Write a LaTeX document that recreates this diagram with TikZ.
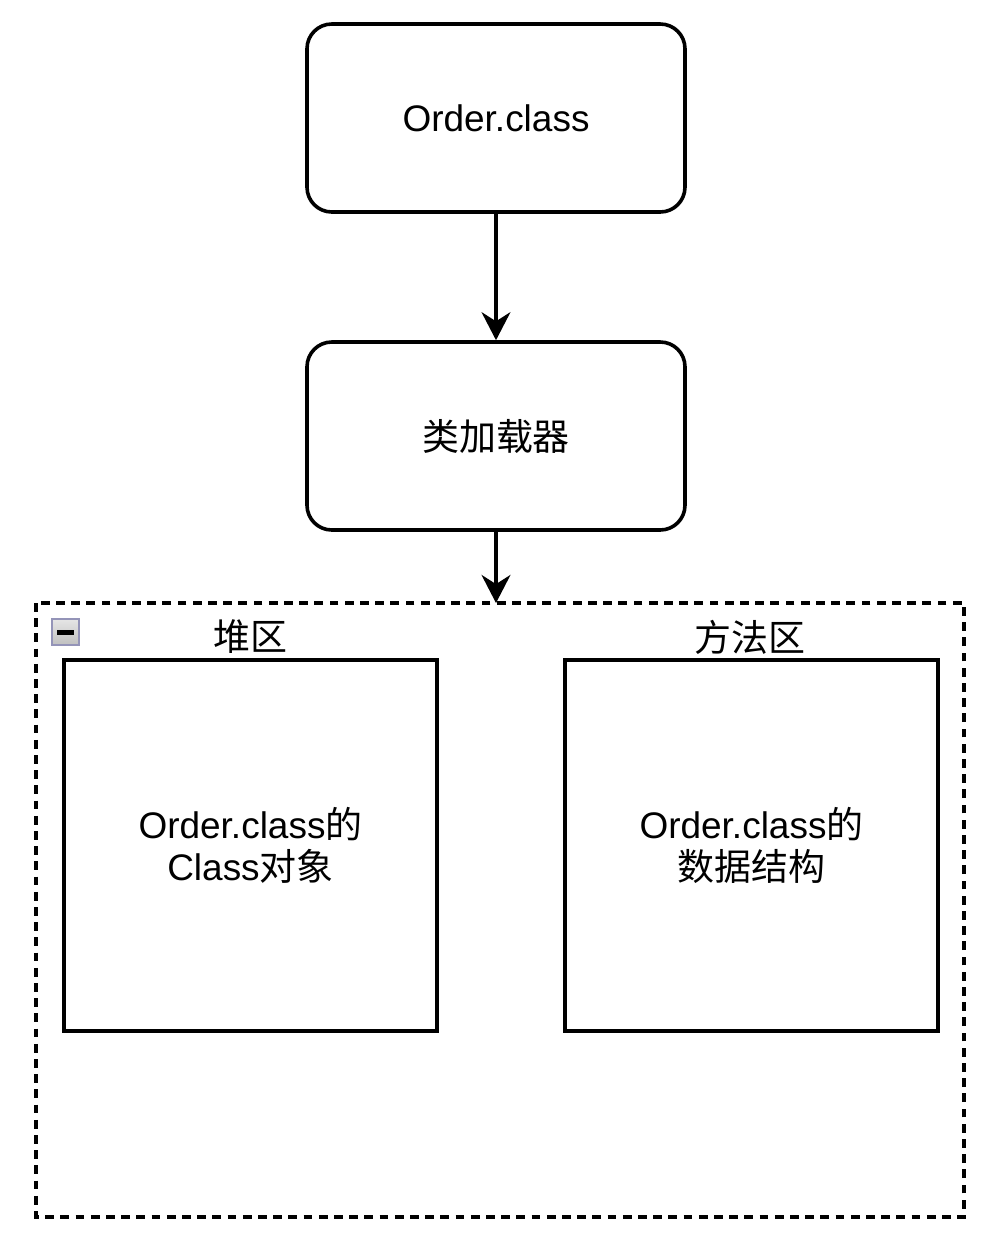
\documentclass[tikz,border=0pt]{standalone}
\usepackage{fontspec}
\setmainfont{Liberation Sans}
\newfontfamily\cjk{Noto Sans CJK SC}
\usetikzlibrary{arrows.meta,positioning,calc}

\begin{document}
\begin{tikzpicture}[>={Stealth[length=0.7cm,width=0.72cm]},line width=0.09cm,font=\fontsize{26.3}{30}\selectfont]
\useasboundingbox (0,0) rectangle (24.675,-30.875);
\tikzstyle{rbox}=[draw,rounded corners=0.62cm,minimum width=9.45cm,minimum height=4.7cm]
\tikzstyle{sq}=[draw,minimum width=9.325cm,minimum height=9.275cm,align=center]
\node[rbox] (orderclass) at (12.4,-2.95) {Order.class};
\node[rbox] (loader) at (12.4,-10.9) {\cjk 类加载器};
\draw[dash pattern=on 0.22cm off 0.16cm] (0.9,-15.075) rectangle (24.1,-30.425);
\coordinate (areatop) at (12.4,-15.075);
% collapse icon
\draw[line width=0.05cm,draw=gray!80!blue!70,top color=gray!20,bottom color=gray!50] (1.3,-15.48) rectangle (1.98,-16.13);
\fill (1.43,-15.74) rectangle (1.85,-15.88);
\node (heaplabel) at (6.25,-15.925) {\cjk 堆区};
\node (methodlabel) at (18.75,-15.925) {\cjk 方法区};
\node[sq] (heap) at (6.2625,-21.1375) {Order.class{\cjk 的}\\Class{\cjk 对象}};
\node[sq] (method) at (18.7875,-21.1375) {Order.class{\cjk 的}\\{\cjk 数据结构}};
\draw[->] (orderclass) -- (loader);
\draw[->] (loader) -- (areatop);
\end{tikzpicture}
\end{document}
